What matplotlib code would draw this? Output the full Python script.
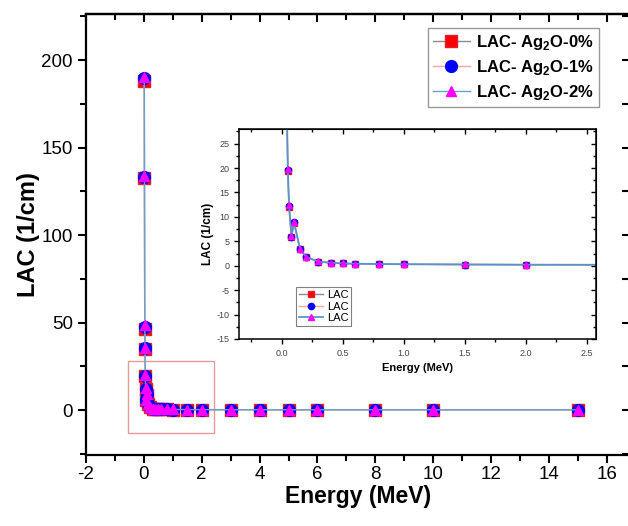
import matplotlib
matplotlib.use('Agg')
import matplotlib.pyplot as plt
from matplotlib.patches import Rectangle
from matplotlib.ticker import MultipleLocator, FormatStrFormatter

plt.rcParams['font.family'] = ['Liberation Sans', 'DejaVu Sans']
plt.rcParams['mathtext.fontset'] = 'custom'
plt.rcParams['mathtext.rm'] = 'Liberation Sans'
plt.rcParams['mathtext.bf'] = 'Liberation Sans:bold'
plt.rcParams['axes.unicode_minus'] = False

# photon energy (MeV)
energy = [0.015, 0.02, 0.03, 0.04, 0.05, 0.06, 0.08, 0.1, 0.15, 0.2, 0.3, 0.4,
          0.5, 0.6, 0.8, 1.0, 1.5, 2, 3, 4, 5, 6, 8, 10, 15]

# linear attenuation coefficient (1/cm)
lac_0 = [188.0, 132.5, 46.5, 35.0, 19.3, 12.0, 5.8, 8.8, 3.35, 1.75, 0.85, 0.58,
         0.46, 0.40, 0.34, 0.30, 0.25, 0.21, 0.18, 0.16, 0.15, 0.14, 0.13, 0.13, 0.13]
lac_1 = [189.5, 133.0, 47.5, 35.2, 19.6, 12.2, 5.9, 8.9, 3.4, 1.78, 0.86, 0.59,
         0.47, 0.41, 0.35, 0.30, 0.25, 0.21, 0.18, 0.16, 0.15, 0.14, 0.13, 0.13, 0.13]
lac_2 = [190.5, 133.5, 48.5, 35.5, 19.9, 12.4, 6.0, 9.0, 3.45, 1.8, 0.87, 0.60,
         0.48, 0.42, 0.35, 0.31, 0.26, 0.22, 0.18, 0.16, 0.15, 0.14, 0.13, 0.13, 0.13]

labels = [r'LAC- Ag$_\mathbf{2}$O-0%', r'LAC- Ag$_\mathbf{2}$O-1%', r'LAC- Ag$_\mathbf{2}$O-2%']

fig = plt.figure(figsize=(6.28, 5.26), dpi=100)

# main plot
ax = fig.add_axes([86 / 628, 71 / 526, 544 / 628, 441 / 526])
ax.plot(energy, lac_0, color='#8c8c8c', lw=1, marker='s', ms=9,
        mfc='#ff0000', mec='#e0202a', label=labels[0])
ax.plot(energy, lac_1, color='#f0a8a8', lw=1, marker='o', ms=8.5,
        mfc='#0000ff', mec='#0000ff', label=labels[1])
ax.plot(energy, lac_2, color='#6c9fcf', lw=1, marker='^', ms=7,
        mfc='#ff00ff', mec='#ff00ff', label=labels[2])

ax.add_patch(Rectangle((-0.56, -13), 3.0, 41, fill=False, ec='#e89a9a', lw=1.0, zorder=1))

ax.set_xlim(-2, 16.8)
ax.set_ylim(-25.7, 226.3)
ax.xaxis.set_major_locator(MultipleLocator(2))
ax.xaxis.set_minor_locator(MultipleLocator(1))
ax.yaxis.set_major_locator(MultipleLocator(50))
ax.yaxis.set_minor_locator(MultipleLocator(25))
ax.tick_params(which='both', direction='out', width=1.5, labelsize=13.5, top=False, right=False)
ax.tick_params(which='major', length=6)
ax.tick_params(which='minor', length=4)
ax.tick_params(axis='x', pad=2)
for s in ax.spines.values():
    s.set_linewidth(1.6)

axt = ax.secondary_xaxis('top')
axt.xaxis.set_major_locator(MultipleLocator(2))
axt.xaxis.set_minor_locator(MultipleLocator(1))
axt.tick_params(which='both', direction='in', width=1.5, labeltop=False)
axt.tick_params(which='major', length=6)
axt.tick_params(which='minor', length=4)
axt.spines['top'].set_linewidth(1.6)
axr = ax.secondary_yaxis('right')
axr.yaxis.set_major_locator(MultipleLocator(50))
axr.yaxis.set_minor_locator(MultipleLocator(25))
axr.tick_params(which='both', direction='in', width=1.5, length=6, labelright=False)

ax.set_xlabel('Energy (MeV)', fontsize=16.5, fontweight='bold', labelpad=1)
ax.set_ylabel('LAC (1/cm)', fontsize=17, fontweight='bold', labelpad=1)

leg = ax.legend(loc='upper right', bbox_to_anchor=(0.943, 0.968), borderaxespad=0,
                prop={'weight': 'bold', 'size': 12}, fancybox=False, edgecolor='#808080',
                handlelength=2.2, labelspacing=0.35, borderpad=0.3, handletextpad=0.4)
leg.get_frame().set_linewidth(1.0)

# inset
axi = fig.add_axes([239 / 628, 187 / 526, 357 / 628, 210 / 526])
axi.plot(energy, lac_0, color='#8c8c8c', lw=1, marker='s', ms=5,
         mfc='#ff0000', mec='#e0202a', label='LAC')
axi.plot(energy, lac_1, color='#f0a8a8', lw=1, marker='o', ms=4.5,
         mfc='#0000ff', mec='#0000ff', label='LAC')
axi.plot(energy, lac_2, color='#5a93cc', lw=1.3, marker='^', ms=4.5,
         mfc='#ff00ff', mec='#ff00ff', label='LAC')
axi.set_xlim(-0.35, 2.575)
axi.set_ylim(-15, 28)
axi.xaxis.set_major_locator(MultipleLocator(0.5))
axi.xaxis.set_minor_locator(MultipleLocator(0.25))
axi.yaxis.set_major_locator(MultipleLocator(5))
axi.yaxis.set_minor_locator(MultipleLocator(2.5))
axi.xaxis.set_major_formatter(FormatStrFormatter('%.1f'))
axi.tick_params(which='both', direction='out', width=1, labelsize=6.5, labelcolor='#444444',
                top=False, right=False)
axi.tick_params(which='major', length=3.5)
axi.tick_params(which='minor', length=2)
for s in axi.spines.values():
    s.set_linewidth(1.1)
ait = axi.secondary_xaxis('top')
ait.xaxis.set_major_locator(MultipleLocator(0.5))
ait.xaxis.set_minor_locator(MultipleLocator(0.25))
ait.tick_params(which='both', direction='in', width=1, labeltop=False)
ait.tick_params(which='major', length=3.5)
ait.tick_params(which='minor', length=2)
air = axi.secondary_yaxis('right')
air.yaxis.set_major_locator(MultipleLocator(5))
air.yaxis.set_minor_locator(MultipleLocator(2.5))
air.tick_params(which='both', direction='in', width=1, labelright=False)
air.tick_params(which='major', length=3.5)
air.tick_params(which='minor', length=2)
axi.set_xlabel('Energy (MeV)', fontsize=8, fontweight='bold', labelpad=4)
axi.set_ylabel('LAC (1/cm)', fontsize=8.5, fontweight='bold', labelpad=2)
ileg = axi.legend(loc='lower left', bbox_to_anchor=(0.16, 0.062), borderaxespad=0,
                  fontsize=8, fancybox=False, edgecolor='#606060', handlelength=2.2,
                  labelspacing=0.15, borderpad=0.25, handletextpad=0.3)
ileg.get_frame().set_linewidth(0.8)

fig.savefig('out.png', dpi=100)
